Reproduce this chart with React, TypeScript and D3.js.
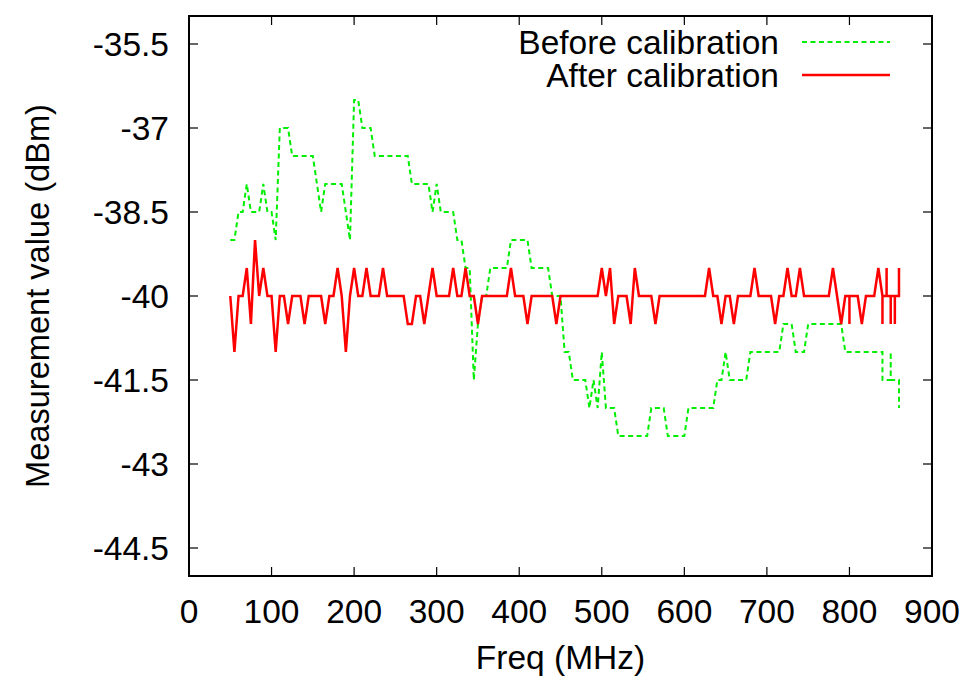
import React from 'react';
import * as d3 from 'd3';

const xTicks = [0, 100, 200, 300, 400, 500, 600, 700, 800, 900];
const yTicks = [-44.5, -43, -41.5, -40, -38.5, -37, -35.5];
const xLabel = 'Freq (MHz)';
const yLabel = 'Measurement value (dBm)';
const seriesNames = ['Before calibration', 'After calibration'];

// [frequency MHz, value dBm]
const beforeCalibration: [number, number][] = [
  [50, -39], [55, -39], [60, -38.5], [65, -38.5], [70, -38], [75, -38.5], [80, -38.5], [85, -38.5],
  [90, -38], [95, -38.5], [100, -38.5], [105, -39], [110, -37], [115, -37], [120, -37], [125, -37.5],
  [130, -37.5], [135, -37.5], [140, -37.5], [145, -37.5], [150, -37.5], [155, -38], [160, -38.5],
  [165, -38], [170, -38], [175, -38], [180, -38], [185, -38], [190, -38.5], [195, -39], [200, -36.5],
  [205, -36.5], [210, -37], [215, -37], [220, -37], [225, -37.5], [230, -37.5], [235, -37.5],
  [240, -37.5], [245, -37.5], [250, -37.5], [255, -37.5], [260, -37.5], [265, -37.5], [270, -38],
  [275, -38], [280, -38], [285, -38], [290, -38], [295, -38.5], [300, -38], [305, -38.5], [310, -38.5],
  [315, -38.5], [320, -38.5], [325, -39], [330, -39], [335, -39.5], [340, -39.5], [345, -41.5],
  [350, -40.5], [355, -40], [360, -40], [365, -39.5], [370, -39.5], [375, -39.5], [380, -39.5],
  [385, -39.5], [390, -39], [395, -39], [400, -39], [405, -39], [410, -39], [415, -39.5], [420, -39.5],
  [425, -39.5], [430, -39.5], [435, -39.5], [440, -40], [445, -40], [450, -40], [455, -41], [460, -41],
  [465, -41.5], [470, -41.5], [475, -41.5], [480, -41.5], [485, -42], [490, -41.5], [495, -42],
  [500, -41], [505, -42], [510, -42], [515, -42], [520, -42.5], [525, -42.5], [530, -42.5],
  [535, -42.5], [540, -42.5], [545, -42.5], [550, -42.5], [555, -42.5], [560, -42], [565, -42],
  [570, -42], [575, -42], [580, -42.5], [585, -42.5], [590, -42.5], [595, -42.5], [600, -42.5],
  [605, -42], [610, -42], [615, -42], [620, -42], [625, -42], [630, -42], [635, -42], [640, -41.5],
  [645, -41.5], [650, -41], [655, -41.5], [660, -41.5], [665, -41.5], [670, -41.5], [675, -41.5],
  [680, -41], [685, -41], [690, -41], [695, -41], [700, -41], [705, -41], [710, -41], [715, -41],
  [720, -40.5], [725, -40.5], [730, -40.5], [735, -41], [740, -41], [745, -41], [750, -40.5],
  [755, -40.5], [760, -40.5], [765, -40.5], [770, -40.5], [775, -40.5], [780, -40.5], [785, -40.5],
  [790, -40.5], [795, -41], [800, -41], [805, -41], [810, -41], [815, -41], [820, -41], [825, -41],
  [830, -41], [835, -41], [840, -41], [840, -41.5], [845, -41.5], [850, -41.5], [850, -41],
  [850, -41.5], [855, -41.5], [860, -41.5], [860, -42],
];

const afterCalibration: [number, number][] = [
  [50, -40], [55, -41], [60, -40], [65, -40], [70, -39.5], [75, -40.5], [80, -39], [85, -40],
  [90, -39.5], [95, -40], [100, -40], [105, -41], [110, -40], [115, -40], [120, -40.5], [125, -40],
  [130, -40], [135, -40], [140, -40.5], [145, -40], [150, -40], [155, -40], [160, -40], [165, -40.5],
  [170, -40], [175, -40], [180, -39.5], [185, -40], [190, -41], [195, -40], [200, -39.5], [205, -40],
  [210, -40], [215, -39.5], [220, -40], [225, -40], [230, -40], [235, -39.5], [240, -40], [245, -40],
  [250, -40], [255, -40], [260, -40], [265, -40.5], [270, -40.5], [275, -40], [280, -40],
  [285, -40.5], [290, -40], [295, -39.5], [300, -40], [305, -40], [310, -40], [315, -40],
  [320, -39.5], [325, -40], [330, -40], [335, -39.5], [340, -40], [345, -40], [350, -40.5],
  [355, -40], [360, -40], [365, -40], [370, -40], [375, -40], [380, -40], [385, -40], [390, -39.5],
  [395, -40], [400, -40], [405, -40], [410, -40.5], [415, -40], [420, -40], [425, -40], [430, -40],
  [435, -40], [440, -40], [445, -40.5], [450, -40], [455, -40], [460, -40], [465, -40], [470, -40],
  [475, -40], [480, -40], [485, -40], [490, -40], [495, -40], [500, -39.5], [505, -40], [510, -39.5],
  [515, -40.5], [520, -40], [525, -40], [530, -40], [535, -40.5], [540, -39.5], [545, -40],
  [550, -40], [555, -40], [560, -40], [565, -40.5], [570, -40], [575, -40], [580, -40], [585, -40],
  [590, -40], [595, -40], [600, -40], [605, -40], [610, -40], [615, -40], [620, -40], [625, -40],
  [630, -39.5], [635, -40], [640, -40], [645, -40.5], [650, -40], [655, -40], [660, -40.5],
  [665, -40], [670, -40], [675, -40], [680, -40], [685, -39.5], [690, -40], [695, -40], [700, -40],
  [705, -40], [710, -40.5], [715, -40], [720, -40], [725, -39.5], [730, -40], [735, -40],
  [740, -39.5], [745, -40], [750, -40], [755, -40], [760, -40], [765, -40], [770, -40], [775, -40],
  [780, -39.5], [785, -40], [790, -40.5], [795, -40], [800, -40], [800, -40.5], [800, -40],
  [805, -40], [810, -40], [815, -40.5], [820, -40], [825, -40], [830, -40], [835, -39.5],
  [840, -40], [840, -40.5], [840, -40], [845, -40], [845, -39.5], [845, -40], [850, -40],
  [850, -40.5], [850, -40], [855, -40], [855, -40.5], [855, -40], [860, -40], [860, -39.5], [860, -40],
];

const FONT = '"Liberation Sans", Arial, Helvetica, sans-serif';

export default function App() {
  const W = 970;
  const H = 681;
  const left = 189, right = 932, top = 16, bottom = 576;
  const x = d3.scaleLinear().domain([0, 900]).range([left, right]);
  const y = d3.scaleLinear().domain([-45, -35]).range([bottom, top]);
  const line = d3.line<[number, number]>().x((d) => x(d[0])).y((d) => y(d[1]));
  const tick = 9;
  const fs = 33.5;
  const green = '#00ee00';
  const red = '#ff0000';

  return (
    <svg width={W} height={H} style={{ position: 'absolute', left: 0, top: 0, background: '#fff' }}
      fontFamily={FONT}>
      <rect x={0} y={0} width={W} height={H} fill="#fff" />
      {xTicks.map((t) => (
        <g key={'xt' + t}>
          <line x1={x(t)} x2={x(t)} y1={bottom} y2={bottom - tick} stroke="#000" strokeWidth={1.2} />
          <line x1={x(t)} x2={x(t)} y1={top} y2={top + tick} stroke="#000" strokeWidth={1.2} />
          <text x={x(t)} y={623} textAnchor="middle" fontSize={fs} fill="#000">{t}</text>
        </g>
      ))}
      {yTicks.map((t) => (
        <g key={'yt' + t}>
          <line x1={left} x2={left + tick} y1={y(t)} y2={y(t)} stroke="#000" strokeWidth={1.2} />
          <line x1={right} x2={right - tick} y1={y(t)} y2={y(t)} stroke="#000" strokeWidth={1.2} />
          <text x={169} y={y(t) + 12} textAnchor="end" fontSize={fs} fill="#000">{String(t)}</text>
        </g>
      ))}
      <path d={line(beforeCalibration) || ''} fill="none" stroke={green} strokeWidth={2}
        strokeDasharray="5,3.5" />
      <path d={line(afterCalibration) || ''} fill="none" stroke={red} strokeWidth={2.5}
        strokeLinejoin="miter" />
      <rect x={left} y={top} width={right - left} height={bottom - top} fill="none" stroke="#000"
        strokeWidth={2} />
      <text x={779} y={54} textAnchor="end" fontSize={fs} fill="#000">{seriesNames[0]}</text>
      <line x1={802} x2={890} y1={42} y2={42} stroke={green} strokeWidth={2} strokeDasharray="5,3.5" />
      <text x={779} y={87} textAnchor="end" fontSize={fs} fill="#000">{seriesNames[1]}</text>
      <line x1={802} x2={890} y1={75} y2={75} stroke={red} strokeWidth={2.5} />
      <text x={(left + right) / 2} y={669} textAnchor="middle" fontSize={fs} fill="#000">{xLabel}</text>
      <text transform={`translate(49, ${(top + bottom) / 2}) rotate(-90)`} textAnchor="middle"
        fontSize={32.6} fill="#000">{yLabel}</text>
    </svg>
  );
}
